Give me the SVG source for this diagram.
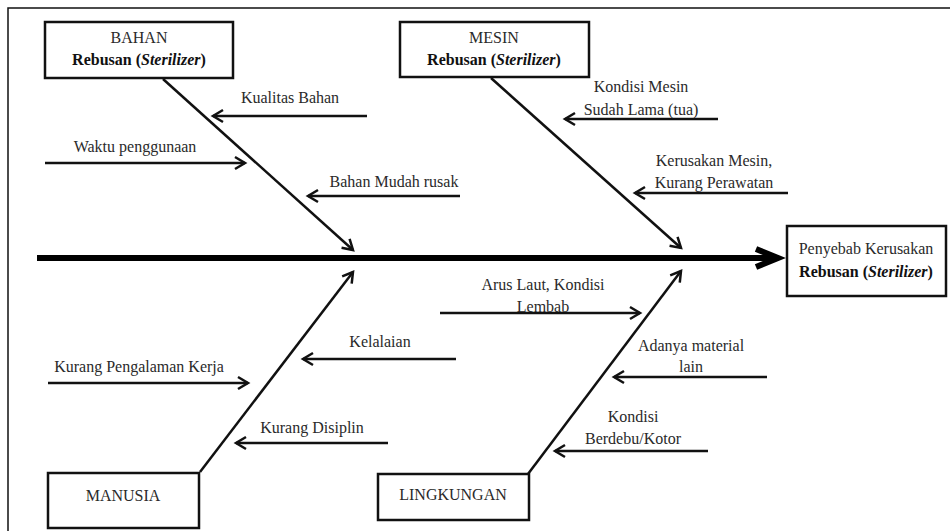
<svg xmlns="http://www.w3.org/2000/svg" width="950" height="531" viewBox="0 0 950 531">
<style>
text{font-family:'Liberation Serif','Times New Roman',serif;font-size:16px;fill:#2a2a2a}
.b{font-weight:bold;fill:#111}
.box{fill:#fff;stroke:#111;stroke-width:2.5}
.ln{stroke:#111;stroke-width:2.5;fill:none;marker-end:url(#ah)}
</style>
<defs>
<marker id="ah" markerUnits="userSpaceOnUse" markerWidth="16" markerHeight="16" refX="12" refY="8" orient="auto" viewBox="0 0 16 16">
<path d="M2,2 L12,8 L2,14" fill="none" stroke="#111" stroke-width="2.5"/>
</marker>
</defs>
<rect x="0" y="0" width="950" height="531" fill="#fff"/>
<rect x="8" y="8" width="960" height="540" fill="none" stroke="#111" stroke-width="1.5"/>
<g id="connectors">
<line x1="37" y1="258" x2="778" y2="258" stroke="#000" stroke-width="6"/>
<path d="M756,249 L778,258 L756,267" fill="none" stroke="#000" stroke-width="6"/>
<line class="ln" x1="163" y1="79" x2="353" y2="250"/>
<line class="ln" x1="491" y1="78" x2="681" y2="248"/>
<line class="ln" x1="200" y1="472" x2="353" y2="272"/>
<line class="ln" x1="528" y1="474" x2="681" y2="271"/>
<line class="ln" x1="367" y1="116" x2="213" y2="116"/>
<line class="ln" x1="45" y1="163" x2="245" y2="163"/>
<line class="ln" x1="460" y1="196" x2="308" y2="196"/>
<line class="ln" x1="718" y1="119" x2="565" y2="119"/>
<line class="ln" x1="788" y1="193" x2="635" y2="193"/>
<line class="ln" x1="48" y1="383" x2="248" y2="383"/>
<line class="ln" x1="456" y1="359" x2="303" y2="359"/>
<line class="ln" x1="388" y1="443" x2="236" y2="443"/>
<line class="ln" x1="440" y1="313" x2="640" y2="313"/>
<line class="ln" x1="767" y1="377" x2="614" y2="377"/>
<line class="ln" x1="708" y1="451" x2="555" y2="451"/>
</g>
<g font-family="Liberation Serif, serif" text-anchor="middle">
<g id="bahan">
<rect class="box" x="45" y="22" width="188" height="56"/>
<text x="139" y="43">BAHAN</text>
<text class="b" x="139" y="65">Rebusan (<tspan font-style="italic">Sterilizer</tspan>)</text>
</g>
<g id="mesin">
<rect class="box" x="400" y="22" width="189" height="55"/>
<text x="494" y="43">MESIN</text>
<text class="b" x="494" y="65">Rebusan (<tspan font-style="italic">Sterilizer</tspan>)</text>
</g>
<g id="effect">
<rect class="box" x="787" y="226" width="159" height="70"/>
<text x="866" y="254">Penyebab Kerusakan</text>
<text class="b" x="866" y="277">Rebusan (<tspan font-style="italic">Sterilizer</tspan>)</text>
</g>
<g id="manusia">
<rect class="box" x="48" y="473" width="151" height="55"/>
<text x="123" y="501">MANUSIA</text>
</g>
<g id="lingkungan">
<rect class="box" x="378" y="474" width="151" height="46"/>
<text x="453" y="500">LINGKUNGAN</text>
</g>
<g id="labels">
<text x="290" y="103">Kualitas Bahan</text>
<text x="135" y="152">Waktu penggunaan</text>
<text x="394" y="187">Bahan Mudah rusak</text>
<text x="641" y="92">Kondisi Mesin</text>
<text x="641" y="115">Sudah Lama (tua)</text>
<text x="714" y="166">Kerusakan Mesin,</text>
<text x="714" y="188">Kurang Perawatan</text>
<text x="139" y="372">Kurang Pengalaman Kerja</text>
<text x="380" y="347">Kelalaian</text>
<text x="312" y="433">Kurang Disiplin</text>
<text x="543" y="290">Arus Laut, Kondisi</text>
<text x="543" y="312">Lembab</text>
<text x="691" y="351">Adanya material</text>
<text x="691" y="372">lain</text>
<text x="633" y="422">Kondisi</text>
<text x="633" y="444">Berdebu/Kotor</text>
</g>
</g>
</svg>
